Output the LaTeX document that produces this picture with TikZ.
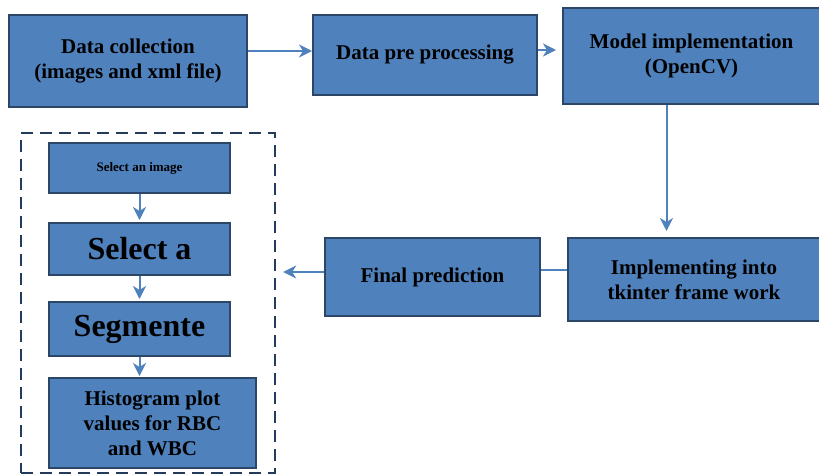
\documentclass[tikz,border=0pt]{standalone}
\usepackage{fontspec}
\setmainfont{Liberation Serif}
\usetikzlibrary{arrows.meta}

\definecolor{boxblue}{RGB}{79,129,189}
\definecolor{boxedge}{RGB}{44,70,104}
\definecolor{dashnavy}{RGB}{36,60,92}

\tikzset{
    stagebox/.style={draw=boxedge, line width=2pt, fill=boxblue, inner sep=0pt,
        align=center, font=\bfseries\fontsize{21}{25}\selectfont},
    arr/.style={-{Stealth[length=13pt, width=13pt, inset=4pt]}, draw=boxblue, line width=2pt},
    link/.style={draw=boxblue, line width=2pt}
}

\begin{document}
\begin{tikzpicture}[x=1pt, y=-1pt]
        \useasboundingbox (0,0) rectangle (819,475);

        % Top row
        \node[stagebox, minimum width=238pt, minimum height=92pt] (coll) at (128,61)
            {Data collection\\(images and xml file)};
        \node[stagebox, minimum width=224pt, minimum height=80pt] (pre) at (425,55)
            {Data pre processing};
        \node[stagebox, minimum width=257pt, minimum height=96pt] (model) at (691.5,56)
            {Model implementation\\(OpenCV)};

        % Middle row
        \node[stagebox, minimum width=252pt, minimum height=83pt] (tkint) at (694,279.5)
            {Implementing into\\tkinter frame work};
        \node[stagebox, minimum width=215pt, minimum height=78pt] (final) at (432.5,277)
            {Final prediction};

        % Dashed group
        \node[draw=dashnavy, line width=2.4pt, dash pattern=on 12pt off 7pt,
            minimum width=254pt, minimum height=340pt] (group) at (148,303) {};

        \node[stagebox, minimum width=181pt, minimum height=50pt,
            font=\bfseries\fontsize{13}{15}\selectfont] (img) at (139.5,168) {Select an image};
        \node[stagebox, minimum width=181pt, minimum height=52pt,
            font=\bfseries\fontsize{32}{36}\selectfont] (sela) at (139.5,249) {Select a};
        \node[stagebox, minimum width=181pt, minimum height=54pt,
            font=\bfseries\fontsize{32}{36}\selectfont] (segm) at (139.5,329) {Segmente};
        \node[stagebox, minimum width=207pt, minimum height=90pt] (hist) at (152.5,423)
            {Histogram plot\\values for RBC\\and WBC};

        % Connectors
        \draw[arr] ([yshift=10pt]coll.east) -- ([yshift=10pt]coll.east -| pre.west);
        \draw[arr, shorten >=6pt] ([yshift=5pt]pre.east) -- ([yshift=5pt]pre.east -| model.west);
        \draw[arr, shorten >=6pt] ([xshift=-25pt]model.south) -- ([xshift=-25pt]model.south |- tkint.north);
        \draw[link] ([yshift=10pt]tkint.west) -- ([yshift=10pt]tkint.west -| final.east);
        \draw[arr, shorten >=7pt] ([yshift=5pt]final.west) -- ([yshift=5pt]final.west -| group.east);

        \draw[arr, shorten >=2pt] (img.south) -- (sela.north);
        \draw[arr, shorten >=2pt] (sela.south) -- (segm.north);
        \draw[arr, shorten >=1pt] (segm.south) -- (segm.south |- hist.north);
    \end{tikzpicture}
\end{document}
